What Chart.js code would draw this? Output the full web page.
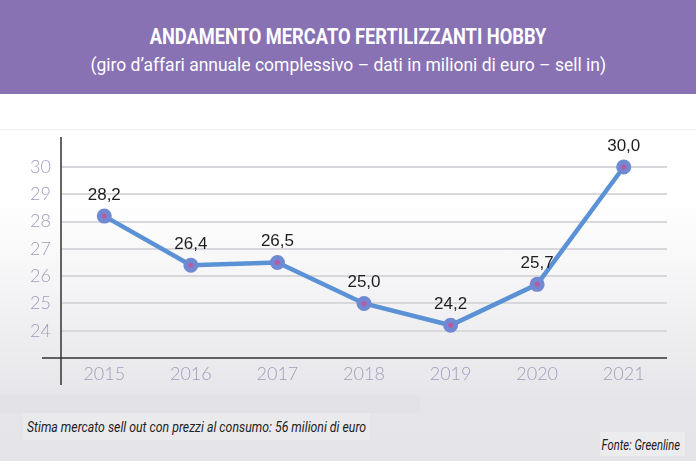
<!DOCTYPE html>
<html>
<head>
<meta charset="utf-8">
<script src="https://cdn.jsdelivr.net/npm/chart.js@4/dist/chart.umd.min.js"></script>
<style>
  html, body { margin: 0; padding: 0; }
  body { width: 696px; height: 461px; position: relative; overflow: hidden;
    background: linear-gradient(to bottom, #ffffff 0px, #ffffff 200px, #e6e6ea 400px, #e4e4e8 461px); }
  .head { position: absolute; left: 0; top: 0; width: 696px; height: 94px; background: #8872b4;
    color: #fff; text-align: center; font-family: Roboto, sans-serif; }
  .head div { position: absolute; width: 100%; white-space: nowrap; }
  .head span { display: inline-block; transform-origin: center; }
  .t1 { top: 24px; font-size: 22px; font-weight: bold; }
  .t1 span { transform: scaleX(0.83); }
  .t2 { top: 53px; font-size: 19px; }
  .t2 span { transform: scaleX(0.92); }
  .sep { position: absolute; left: 0; top: 129px; width: 696px; height: 1px; background: #eeeeef; }
  .band { position: absolute; left: 0; top: 395px; width: 420px; height: 18px; background: rgba(0,0,0,0.012); }
  .note { position: absolute; left: 23px; top: 413px; width: 347px; height: 27px; background: #eaeaed; }
  .note span { position: absolute; left: 4px; top: 5px; white-space: nowrap; font: italic 15px Roboto, sans-serif; color: #222;
    transform: scaleX(0.82); transform-origin: left center; }
  .srcbox { position: absolute; left: 600px; top: 432px; width: 85px; height: 24px; background: #ececef; }
  .src { position: absolute; right: 16px; top: 437px; white-space: nowrap; font: italic 14px Roboto, sans-serif; color: #222;
    transform: scaleX(0.8); transform-origin: right center; }
  canvas { position: absolute; left: 0; top: 0; }
</style>
</head>
<body>
<div class="head">
  <div class="t1"><span>ANDAMENTO MERCATO FERTILIZZANTI HOBBY</span></div>
  <div class="t2"><span>(giro d’affari annuale complessivo – dati in milioni di euro – sell in)</span></div>
</div>
<div class="sep"></div>
<div class="band"></div>
<div class="note"><span>Stima mercato sell out con prezzi al consumo: 56 milioni di euro</span></div>
<div class="srcbox"></div>
<div class="src">Fonte: Greenline</div>
<canvas id="chart" width="696" height="461"></canvas>
<script>
const years = ["2015", "2016", "2017", "2018", "2019", "2020", "2021"];
const values = [28.2, 26.4, 26.5, 25.0, 24.2, 25.7, 30.0];
const yTicks = [24, 25, 26, 27, 28, 29, 30];

// axis lines drawn a bit past the plot area, as in the original
const axisLines = {
  id: "axisLines",
  afterDraw(chart) {
    const { ctx, chartArea } = chart;
    ctx.save();
    ctx.strokeStyle = "#333";
    ctx.lineWidth = 1.5;
    ctx.beginPath();
    ctx.moveTo(chartArea.left, chartArea.top);
    ctx.lineTo(chartArea.left, chartArea.bottom + 27);
    ctx.moveTo(chartArea.left - 19, chartArea.bottom);
    ctx.lineTo(chartArea.right, chartArea.bottom);
    ctx.stroke();
    ctx.restore();
  }
};

const valueLabels = {
  id: "valueLabels",
  afterDatasetsDraw(chart) {
    const { ctx } = chart;
    const meta = chart.getDatasetMeta(0);
    ctx.save();
    ctx.font = "17px 'Liberation Sans', sans-serif";
    ctx.fillStyle = "#1e1e1e";
    ctx.textAlign = "center";
    ctx.textBaseline = "middle";
    meta.data.forEach((pt, i) => {
      ctx.fillText(values[i].toFixed(1).replace(".", ","), pt.x, pt.y - 21);
    });
    ctx.restore();
  }
};

new Chart(document.getElementById("chart"), {
  type: "line",
  data: {
    labels: years,
    datasets: [{
      data: values,
      borderColor: "#5b91d5",
      borderWidth: 4.5,
      pointRadius: 5,
      pointHoverRadius: 5,
      pointBorderWidth: 5,
      pointBackgroundColor: "#b75aa2",
      pointBorderColor: "#7189d2",
      tension: 0
    }]
  },
  options: {
    responsive: false,
    animation: false,
    layout: { padding: { top: 137, right: 29, left: 0, bottom: 0 } },
    plugins: { legend: { display: false }, tooltip: { enabled: false } },
    scales: {
      x: {
        offset: true,
        grid: { display: false, drawTicks: false },
        border: { display: false },
        ticks: { color: "#a49bbd", padding: 5, font: { family: "Lato", weight: 300, size: 18 } },
        afterFit(scale) { scale.height = 103; }
      },
      y: {
        min: 23,
        max: 31.1,
        afterBuildTicks(axis) { axis.ticks = yTicks.map(v => ({ value: v })); },
        grid: { color: "#d8d8dc", lineWidth: 2, drawTicks: false },
        border: { display: false },
        ticks: { color: "#a49bbd", padding: 10, font: { family: "Lato", weight: 300, size: 18 } },
        afterFit(scale) { scale.width = 61; }
      }
    }
  },
  plugins: [axisLines, valueLabels]
});
</script>
</body>
</html>
